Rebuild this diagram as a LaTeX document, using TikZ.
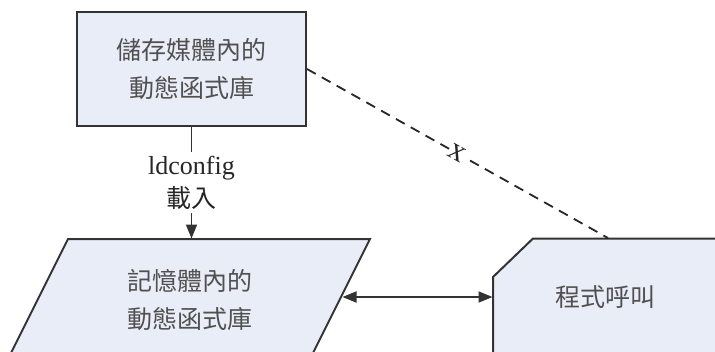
\documentclass[tikz,border=0pt]{standalone}
\usepackage{fontspec}
\setmainfont{Liberation Serif}
\newfontfamily\cjk{Noto Sans CJK TC}
\usetikzlibrary{arrows.meta}
\definecolor{cFill}{HTML}{E9EDF7}
\definecolor{cLine}{HTML}{333333}
\definecolor{cText}{HTML}{505050}
\tikzset{
  shp/.style={draw=cLine,line width=2pt,fill=cFill},
  txt/.style={text=cText,align=center,font=\cjk\fontsize{25}{38}\selectfont},
  lnk/.style={line width=1.8pt,cLine},
  tip/.style={-{Triangle[length=14pt,width=11pt]}},
  tips/.style={{Triangle[length=14pt,width=11pt]}-{Triangle[length=14pt,width=11pt]}},
  dsh/.style={line width=1.8pt,black!85,dash pattern=on 10pt off 7pt},
}
\begin{document}
\begin{tikzpicture}[x=1pt,y=-1pt]
  \useasboundingbox (0,0) rectangle (715,351);
  % storage box
  \node[shp,minimum width=229pt,minimum height=114pt,inner sep=0pt] (disk) at (191.5,69) {};
  \node[txt] (disktxt) at (191.5,69) {儲存媒體內的\\動態函式庫};
  % memory parallelogram
  \draw[shp] (68,239) -- (370,239) -- (309.5,360) -- (7.5,360) -- cycle;
  \node[txt] (memtxt) at (190,300) {記憶體內的\\動態函式庫};
  % program shape
  \draw[shp] (493,360) -- (493,277) -- (533,238.5) -- (725,238.5) -- (725,360);
  \node[txt] (progtxt) at (605,297) {程式呼叫};
  \coordinate (memtop) at (191.5,238.5);
  \coordinate (memright) at (342.5,297);
  \coordinate (progleft) at (492.5,297);
  \coordinate (progtop) at (608,238);
  % connectors
  \draw[lnk,tip] (disk.south) -- node[fill=white,inner xsep=2pt,inner ysep=4pt,align=center,text=black!85,font=\fontsize{26}{33}\selectfont] (ldc) {ldconfig\\{\cjk\fontsize{25}{33}\selectfont 載入}} (memtop);
  \draw[lnk,tips] (memright) -- (progleft);
  \draw[dsh] (disk.east) -- node[sloped,fill=white,inner sep=1pt,text=black!85,font=\fontsize{32}{32}\selectfont] (cut) {x} (progtop);
\end{tikzpicture}
\end{document}
